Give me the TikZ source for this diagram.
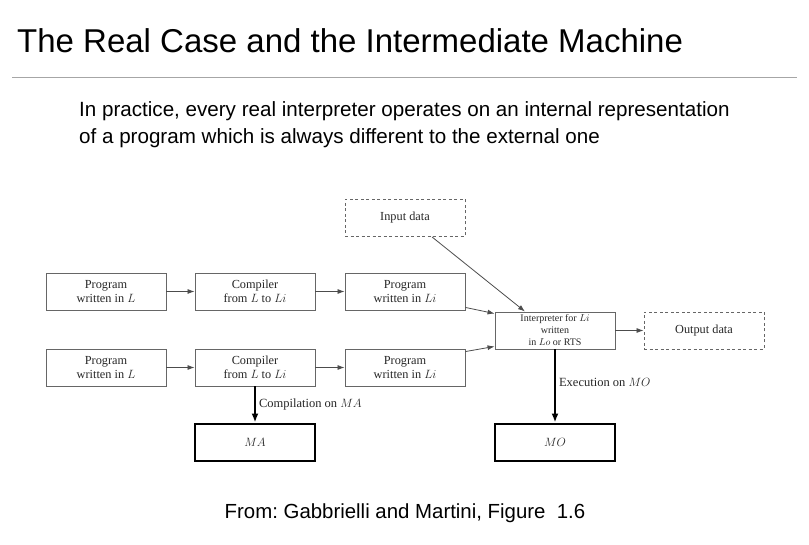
\documentclass[tikz,border=0pt]{standalone}
\usepackage{fontspec}
\setmainfont{Liberation Serif}
\newfontfamily\slidefont{Liberation Sans}
\usetikzlibrary{arrows.meta}
\frenchspacing
\begin{document}
\begin{tikzpicture}[x=1pt,y=-1pt,
  box/.style={draw=black!60, line width=0.9pt, minimum width=120pt, minimum height=37pt,
    inner sep=1pt, align=center, font=\fontsize{12.3}{14}\selectfont, text=black!85},
  databox/.style={box, dashed, dash pattern=on 3pt off 2.5pt},
  machine/.style={box, draw=black, line width=2pt, minimum height=37pt},
  flow/.style={draw=black!70, line width=0.8pt, -{Latex[length=7pt,width=5pt]}},
  exec/.style={draw=black, line width=2.2pt, -{Latex[length=9pt,width=7pt]}},
  lbl/.style={font=\fontsize{12.5}{14}\selectfont, text=black!85, inner sep=1pt}]
\useasboundingbox (0,0) rectangle (809,545);

% slide heading, rule and caption
\node[anchor=base west, inner sep=0pt, font=\slidefont\fontsize{33}{38}\selectfont] (title) at (17,53)
  {The Real Case and the Intermediate Machine};
\draw[black!35, line width=0.8pt] (12,77) -- (797,77);
\node[anchor=base west, inner sep=0pt, font=\slidefont\fontsize{20.6}{27}\selectfont] (intro1) at (79,117)
  {In practice, every real interpreter operates on an internal representation};
\node[anchor=base west, inner sep=0pt, font=\slidefont\fontsize{20.6}{27}\selectfont] (intro2) at (79,144)
  {of a program which is always different to the external one};
\node[anchor=base, inner sep=0pt, font=\slidefont\fontsize{20.4}{24}\selectfont] (source) at (405,518)
  {From: Gabbrielli and Martini, Figure\ \ 1.6};

% diagram
\node[databox] (in) at (405,218) {Input data};
\node[box] (p1) at (106,291.5) {Program\\written in $L$};
\node[box] (c1) at (255,291.5) {Compiler\\from $L$ to $Li$};
\node[box] (q1) at (405,291.5) {Program\\written in $Li$};
\node[box, font=\fontsize{10}{12}\selectfont] (interp) at (555,330.5)
  {Interpreter for $Li$\\written\\in $Lo$ or RTS};
\node[databox] (out) at (704,330.5) {Output data};
\node[box] (p2) at (106,367.5) {Program\\written in $L$};
\node[box] (c2) at (255,367.5) {Compiler\\from $L$ to $Li$};
\node[box] (q2) at (405,367.5) {Program\\written in $Li$};
\node[machine] (ma) at (255,442) {$MA$};
\node[machine] (mo) at (555,442) {$MO$};

\draw[flow] (p1) -- (c1);
\draw[flow] (c1) -- (q1);
\draw[flow] (p2) -- (c2);
\draw[flow] (c2) -- (q2);
\draw[flow] ([xshift=27pt]in.south) -- ([xshift=-30pt]interp.north);
\draw[flow] ([yshift=3pt]q1.south east) -- ([yshift=-2pt]interp.north west);
\draw[flow] ([yshift=-3pt]q2.north east) -- ([yshift=3pt]interp.south west);
\draw[flow] (interp) -- (out);
\draw[exec] (c2) -- (ma) node[lbl, midway, anchor=west, xshift=2pt] (comp) {Compilation on $MA$};
\draw[exec] (interp) -- (mo) node[lbl, pos=0.45, anchor=west, xshift=2pt] (run) {Execution on $MO$};
\end{tikzpicture}
\end{document}
